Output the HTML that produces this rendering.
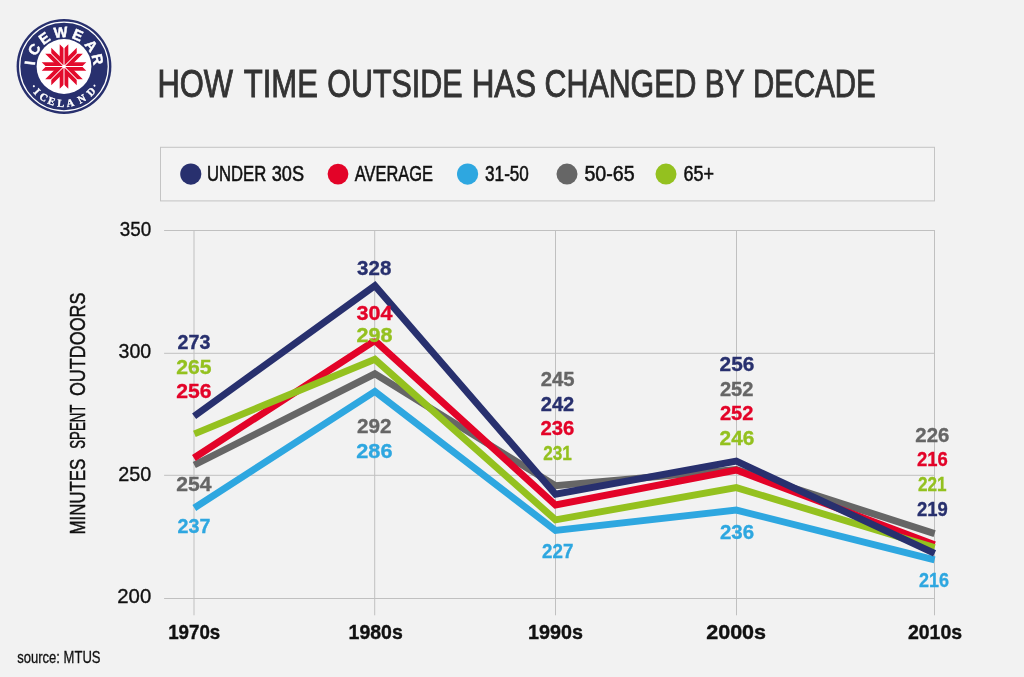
<!DOCTYPE html>
<html>
<head>
<meta charset="utf-8">
<title>How time outside has changed by decade</title>
<style>
html,body{margin:0;padding:0;background:#f2f2f2;}
body{width:1024px;height:677px;overflow:hidden;font-family:"Liberation Sans",sans-serif;}
svg{display:block;will-change:transform;}
text{font-family:"Liberation Sans",sans-serif;}
.t{fill:#333333;font-size:38.5px;stroke:#333333;stroke-width:0.9;}
.lg{fill:#111111;font-size:22px;stroke:#111111;stroke-width:0.55;}
.ax{fill:#111111;font-size:20.6px;stroke:#111111;stroke-width:0.35;}
.xl{fill:#111111;font-size:21px;font-weight:bold;stroke:#111111;stroke-width:0.4;}
.dl{font-size:20.7px;font-weight:bold;stroke-width:0.35;}
.ln{fill:none;stroke-width:6.9;stroke-linejoin:miter;stroke-linecap:butt;stroke-miterlimit:10;}
.srf text{font-family:"Liberation Serif",serif;}
.g{stroke:#c0c0c0;stroke-width:1;fill:none;}
</style>
</head>
<body>
<svg width="1024" height="677" viewBox="0 0 1024 677">
<rect x="0" y="0" width="1024" height="677" fill="#f2f2f2"/>

<!-- LOGO -->
<g id="logo">
<circle cx="64.0" cy="66.5" r="47.4" fill="#28306e"/>
<circle cx="64.0" cy="66.5" r="44.3" fill="none" stroke="#ffffff" stroke-width="1.25"/>
<circle cx="64.0" cy="66.5" r="27.4" fill="#ffffff"/>
<g transform="translate(64.0 66.5)" fill="#e30b2c"><path d="M-4.3 0L-4.3 -22.3L0 -18.0L4.3 -22.3L4.3 0Z" transform="rotate(0)"/><path d="M-4.3 0L-4.3 -22.3L0 -18.0L4.3 -22.3L4.3 0Z" transform="rotate(45)"/><path d="M-4.3 0L-4.3 -22.3L0 -18.0L4.3 -22.3L4.3 0Z" transform="rotate(90)"/><path d="M-4.3 0L-4.3 -22.3L0 -18.0L4.3 -22.3L4.3 0Z" transform="rotate(135)"/><path d="M-4.3 0L-4.3 -22.3L0 -18.0L4.3 -22.3L4.3 0Z" transform="rotate(180)"/><path d="M-4.3 0L-4.3 -22.3L0 -18.0L4.3 -22.3L4.3 0Z" transform="rotate(225)"/><path d="M-4.3 0L-4.3 -22.3L0 -18.0L4.3 -22.3L4.3 0Z" transform="rotate(270)"/><path d="M-4.3 0L-4.3 -22.3L0 -18.0L4.3 -22.3L4.3 0Z" transform="rotate(315)"/></g>
<g transform="translate(64.0 66.5)" stroke="#ffffff" stroke-width="1" fill="none"><path d="M0 -22.3V22.3" transform="rotate(0)"/><path d="M0 -22.3V22.3" transform="rotate(45)"/><path d="M0 -22.3V22.3" transform="rotate(90)"/><path d="M0 -22.3V22.3" transform="rotate(135)"/></g>
<circle cx="64.0" cy="66.5" r="1.7" fill="#ffffff"/>
<g transform="translate(64.0 66.5)" text-anchor="middle" fill="#ffffff" stroke="#ffffff" stroke-width="0.45" style="font-size:14.7px;font-weight:bold"><text transform="rotate(-84.2)" x="0" y="-29.3">I</text><text transform="rotate(-60.3)" x="0" y="-29.3">C</text><text transform="rotate(-34.9)" x="0" y="-29.3">E</text><text transform="rotate(-5.4)" x="0" y="-29.3">W</text><text transform="rotate(23.5)" x="0" y="-29.3">E</text><text transform="rotate(52.7)" x="0" y="-29.3">A</text><text transform="rotate(77.9)" x="0" y="-29.3">R</text></g>
<g transform="translate(64.0 66.5)" text-anchor="middle" fill="#ffffff" class="srf" stroke="#ffffff" stroke-width="0.35" style="font-size:10.6px;font-weight:bold"><circle transform="rotate(56.8)" cx="0" cy="36" r="1.05" stroke="none"/><text transform="rotate(47.1)" x="0" y="40.4">I</text><text transform="rotate(33.7)" x="0" y="40.4">C</text><text transform="rotate(19.7)" x="0" y="40.4">E</text><text transform="rotate(5.0)" x="0" y="40.4">L</text><text transform="rotate(-9.8)" x="0" y="40.4">A</text><text transform="rotate(-28.5)" x="0" y="40.4">N</text><text transform="rotate(-46.9)" x="0" y="40.4">D</text><circle transform="rotate(-57.8)" cx="0" cy="36" r="1.05" stroke="none"/></g>
</g>

<!-- TITLE -->
<g class="t">
<text x="157.4" y="97.1" textLength="75.6" lengthAdjust="spacingAndGlyphs">HOW</text>
<text x="243.7" y="97.1" textLength="74.2" lengthAdjust="spacingAndGlyphs">TIME</text>
<text x="327.2" y="97.1" textLength="135.5" lengthAdjust="spacingAndGlyphs">OUTSIDE</text>
<text x="471.7" y="97.1" textLength="64.5" lengthAdjust="spacingAndGlyphs">HAS</text>
<text x="544.6" y="97.1" textLength="151.8" lengthAdjust="spacingAndGlyphs">CHANGED</text>
<text x="704.8" y="97.1" textLength="39.8" lengthAdjust="spacingAndGlyphs">BY</text>
<text x="753" y="97.1" textLength="122.7" lengthAdjust="spacingAndGlyphs">DECADE</text>
</g>

<!-- LEGEND -->
<rect x="160.5" y="147.3" width="774" height="53.6" fill="#f3f3f3" stroke="#c4c4c4" stroke-width="1"/>
<circle cx="190.8" cy="174.1" r="10.6" fill="#28306e"/>
<circle cx="338" cy="174.1" r="10.4" fill="#e30328"/>
<circle cx="467.6" cy="174.1" r="10.6" fill="#2ea7e0"/>
<circle cx="567" cy="174.1" r="10.5" fill="#666666"/>
<circle cx="666" cy="174.1" r="10.5" fill="#94c11f"/>
<g class="lg">
<text x="206.9" y="180.8" textLength="59.4" lengthAdjust="spacingAndGlyphs">UNDER</text>
<text x="271.7" y="180.8" textLength="32.3" lengthAdjust="spacingAndGlyphs">30S</text>
<text x="354.8" y="180.8" textLength="78.2" lengthAdjust="spacingAndGlyphs">AVERAGE</text>
<text x="485.1" y="180.8" textLength="43.8" lengthAdjust="spacingAndGlyphs">31-50</text>
<text x="584.4" y="180.8" textLength="50.3" lengthAdjust="spacingAndGlyphs">50-65</text>
<text x="683.4" y="180.8" textLength="30.6" lengthAdjust="spacingAndGlyphs">65+</text>
</g>

<!-- GRID -->
<g class="g">
<path d="M164.1 230.5H935M164.1 353.3H935M164.1 475.3H935M164.1 598.5H935"/>
<path d="M194 230V615.3M374.7 230V615.3M555.5 230V615.3M736.5 230V615.3M934.5 230V615.3"/>
</g>

<!-- Y AXIS -->
<g class="ax">
<text x="119.7" y="236.2" textLength="31.5" lengthAdjust="spacingAndGlyphs">350</text>
<text x="118.5" y="358.3" textLength="32.7" lengthAdjust="spacingAndGlyphs">300</text>
<text x="118.2" y="480.7" textLength="33" lengthAdjust="spacingAndGlyphs">250</text>
<text x="117.3" y="602.8" textLength="33.9" lengthAdjust="spacingAndGlyphs">200</text>
</g>
<g class="ax" transform="translate(85.1 534.5) rotate(-90)" style="font-size:21.5px;stroke-width:0.5">
<text x="0" y="0" textLength="75.8" lengthAdjust="spacingAndGlyphs">MINUTES</text>
<text x="85.8" y="0" textLength="44" lengthAdjust="spacingAndGlyphs">SPENT</text>
<text x="138.4" y="0" textLength="103.6" lengthAdjust="spacingAndGlyphs">OUTDOORS</text>
</g>

<!-- X AXIS -->
<g class="xl">
<text x="168.2" y="639.4" textLength="52.1" lengthAdjust="spacingAndGlyphs">1970s</text>
<text x="348.6" y="639.4" textLength="54.2" lengthAdjust="spacingAndGlyphs">1980s</text>
<text x="528.1" y="639.4" textLength="54.8" lengthAdjust="spacingAndGlyphs">1990s</text>
<text x="706.2" y="639.4" textLength="59.9" lengthAdjust="spacingAndGlyphs">2000s</text>
<text x="907.9" y="639.4" textLength="54.2" lengthAdjust="spacingAndGlyphs">2010s</text>
</g>
<text x="17.2" y="663" textLength="83.3" lengthAdjust="spacingAndGlyphs" style="font-size:16px;fill:#111;stroke:#111;stroke-width:0.3">source: MTUS</text>


<!-- LINES -->
<clipPath id="rc"><path clip-rule="evenodd" d="M0 0H1024V677H0ZM366 328H384V338.4H366Z"/></clipPath>
<g id="lines">
<path class="ln" stroke="#666666" d="M194.3 465L374.9 373.8L555.5 485.7L736.3 469.5L934.6 533.6"/>
<path class="ln" clip-path="url(#rc)" stroke="#e30328" d="M193.9 458L374.9 340.6L555.5 505L736.3 470.1L934.6 544.7"/>
<path class="ln" stroke="#2ea7e0" d="M194.3 508L374.9 391.4L555.5 530.4L736.3 510.1L934.6 559.8"/>
<path class="ln" stroke="#94c11f" d="M194.4 433.9L374.9 359.3L555.5 519.8L736.3 487.6L934.6 547.6"/>
<path class="ln" stroke="#28306e" d="M194.1 416.3L374.9 285.7L555.5 494.2L736.3 461.2L934.6 553.3"/>
</g>
<!-- DATA LABELS -->
<g class="dl" id="labels">
<text x="177.6" y="349.2" textLength="32.8" lengthAdjust="spacingAndGlyphs" fill="#28306e" stroke="#28306e">273</text>
<text x="176.3" y="373.5" textLength="35.3" lengthAdjust="spacingAndGlyphs" fill="#94c11f" stroke="#94c11f">265</text>
<text x="176.3" y="398.3" textLength="35.3" lengthAdjust="spacingAndGlyphs" fill="#e30328" stroke="#e30328">256</text>
<text x="176.3" y="491.0" textLength="35.3" lengthAdjust="spacingAndGlyphs" fill="#666666" stroke="#666666">254</text>
<text x="177.6" y="533.0" textLength="32.8" lengthAdjust="spacingAndGlyphs" fill="#2ea7e0" stroke="#2ea7e0">237</text>
<text x="357.1" y="274.8" textLength="34.2" lengthAdjust="spacingAndGlyphs" fill="#28306e" stroke="#28306e">328</text>
<text x="356.5" y="320.0" textLength="35.9" lengthAdjust="spacingAndGlyphs" fill="#e30328" stroke="#e30328">304</text>
<text x="356.5" y="341.6" textLength="35.9" lengthAdjust="spacingAndGlyphs" fill="#94c11f" stroke="#94c11f">298</text>
<text x="357.0" y="433.4" textLength="34.5" lengthAdjust="spacingAndGlyphs" fill="#666666" stroke="#666666">292</text>
<text x="356.3" y="457.7" textLength="36.2" lengthAdjust="spacingAndGlyphs" fill="#2ea7e0" stroke="#2ea7e0">286</text>
<text x="540.7" y="386.0" textLength="33.9" lengthAdjust="spacingAndGlyphs" fill="#666666" stroke="#666666">245</text>
<text x="540.7" y="410.8" textLength="33.6" lengthAdjust="spacingAndGlyphs" fill="#28306e" stroke="#28306e">242</text>
<text x="540.4" y="435.1" textLength="33.9" lengthAdjust="spacingAndGlyphs" fill="#e30328" stroke="#e30328">236</text>
<text x="543.2" y="459.6" textLength="28.7" lengthAdjust="spacingAndGlyphs" fill="#94c11f" stroke="#94c11f">231</text>
<text x="542.1" y="558.4" textLength="31.3" lengthAdjust="spacingAndGlyphs" fill="#2ea7e0" stroke="#2ea7e0">227</text>
<text x="719.6" y="371.0" textLength="34.8" lengthAdjust="spacingAndGlyphs" fill="#28306e" stroke="#28306e">256</text>
<text x="719.9" y="395.5" textLength="33.6" lengthAdjust="spacingAndGlyphs" fill="#666666" stroke="#666666">252</text>
<text x="719.9" y="420.1" textLength="33.6" lengthAdjust="spacingAndGlyphs" fill="#e30328" stroke="#e30328">252</text>
<text x="719.6" y="444.6" textLength="34.8" lengthAdjust="spacingAndGlyphs" fill="#94c11f" stroke="#94c11f">246</text>
<text x="720.0" y="539.1" textLength="34.1" lengthAdjust="spacingAndGlyphs" fill="#2ea7e0" stroke="#2ea7e0">236</text>
<text x="915.3" y="441.9" textLength="34.0" lengthAdjust="spacingAndGlyphs" fill="#666666" stroke="#666666">226</text>
<text x="917.1" y="466.4" textLength="30.8" lengthAdjust="spacingAndGlyphs" fill="#e30328" stroke="#e30328">216</text>
<text x="918.0" y="491.0" textLength="28.6" lengthAdjust="spacingAndGlyphs" fill="#94c11f" stroke="#94c11f">221</text>
<text x="917.1" y="515.5" textLength="30.8" lengthAdjust="spacingAndGlyphs" fill="#28306e" stroke="#28306e">219</text>
<text x="919.0" y="586.6" textLength="30.0" lengthAdjust="spacingAndGlyphs" fill="#2ea7e0" stroke="#2ea7e0">216</text>
</g>
</svg>
</body>
</html>
